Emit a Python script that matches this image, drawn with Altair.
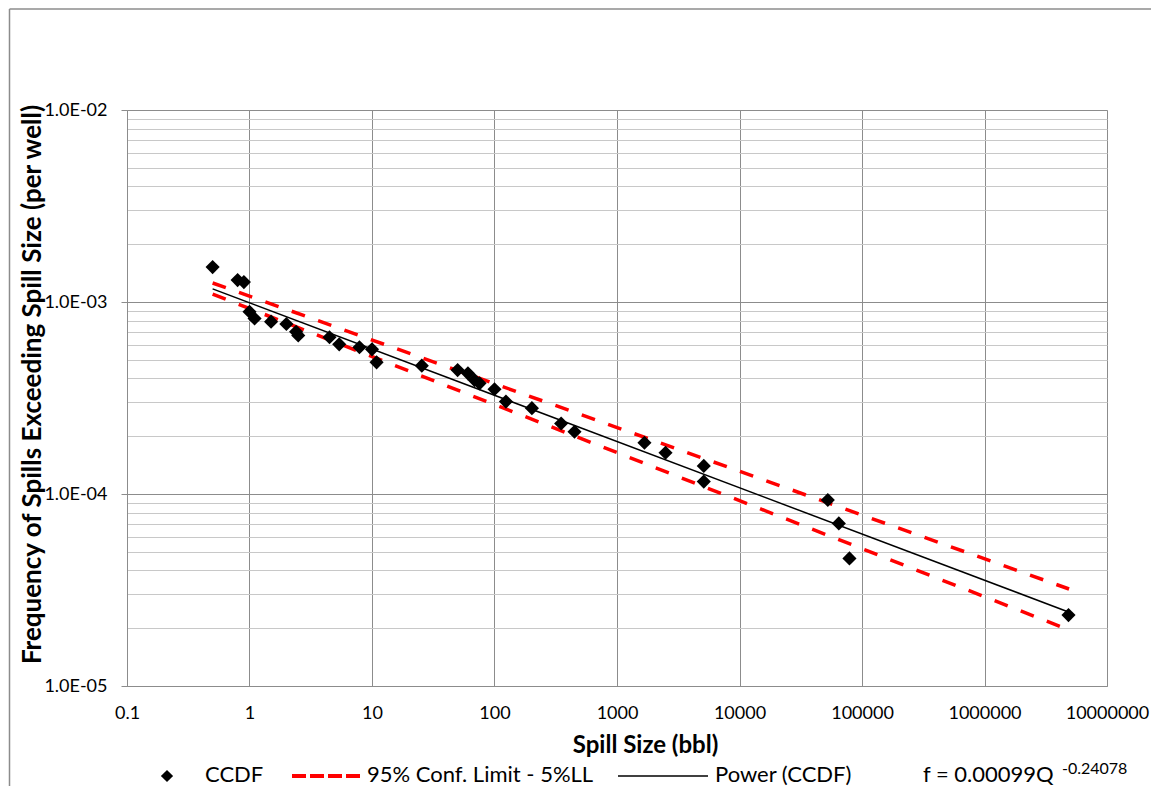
import altair as alt
import pandas as pd

# ---------------- data ----------------
ccdf_size = [0.5, 0.8, 0.9, 1.0, 1.1, 1.5, 2.0, 2.4, 2.5, 4.5, 5.4, 7.9, 10.0, 10.9,
             25.5, 50, 60.7, 68.7, 75.5, 100, 124, 202, 350, 450,
             1675, 2490, 5110, 5110, 52600, 64700, 79000, 4850000]
ccdf_freq = [1.52e-3, 1.30e-3, 1.27e-3, 8.9e-4, 8.2e-4, 7.9e-4, 7.68e-4, 7.0e-4, 6.7e-4,
             6.55e-4, 6.02e-4, 5.81e-4, 5.67e-4, 4.85e-4,
             4.66e-4, 4.42e-4, 4.25e-4, 3.92e-4, 3.77e-4, 3.51e-4, 3.03e-4, 2.80e-4, 2.33e-4, 2.11e-4,
             1.85e-4, 1.64e-4, 1.40e-4, 1.16e-4, 9.3e-5, 7.03e-5, 4.62e-5, 2.34e-5]

power_size = [0.5, 4850000]
power_freq = [1.17e-3, 2.43e-5]

upper_size = [0.5, 4900000]
upper_freq = [1.256e-3, 3.2e-5]
lower_size = [0.5, 4900000]
lower_freq = [1.10e-3, 1.96e-5]

x_ticks = [0.1, 1, 10, 100, 1000, 10000, 100000, 1000000, 10000000]
y_major = [1e-5, 1e-4, 1e-3, 1e-2]
y_minor = [k * 10.0 ** e for e in (-5, -4, -3) for k in range(2, 10)]

legend_labels = ["CCDF", "95% Conf. Limit - 5%LL", "Power (CCDF)"]
formula_main = "f = 0.00099Q"
formula_exp = "-0.24078"

# ---------------- layout ----------------
W, H = 980, 576
FONT = "Lato"
MAJOR = "#8c8c8c"
MINOR = "#c8c8c8"

ccdf_df = pd.DataFrame({"size": ccdf_size, "freq": ccdf_freq})
power_df = pd.DataFrame({"size": power_size, "freq": power_freq})
bounds_df = pd.DataFrame({
    "size": upper_size + lower_size,
    "freq": upper_freq + lower_freq,
    "bound": ["upper"] * len(upper_size) + ["lower"] * len(lower_size),
})

major_test = "abs(log(datum.value)/LN10 - round(log(datum.value)/LN10)) < 0.001"

xscale = alt.Scale(type="log", domain=[0.1, 1e7], nice=False)
yscale = alt.Scale(type="log", domain=[1e-5, 1e-2], nice=False)

x_axis = alt.Axis(
    values=x_ticks,
    labelExpr="datum.value < 1 ? '0.1' : format(datum.value, '.0f')",
    grid=True, gridColor=MAJOR, gridWidth=1,
    ticks=False, tickSize=0,
    domainColor=MAJOR,
    labelFont=FONT, labelFontSize=18, labelColor="black",
    labelBaseline="middle", labelPadding=27, labelFlush=False,
    title="Spill Size (bbl)", titleFont=FONT, titleFontSize=24, titleFontWeight="bold",
    titleColor="black", titleBaseline="middle", titleY=59, titleX=518,
)

y_axis = alt.Axis(
    values=y_major + y_minor,
    labelExpr="(" + major_test + ") ? '1.0E-0' + (-round(log(datum.value)/LN10)) : ''",
    grid=True,
    gridColor={"condition": {"test": major_test, "value": MAJOR}, "value": MINOR},
    tickColor={"condition": {"test": major_test, "value": MAJOR}, "value": "transparent"},
    tickSize=6, domainColor=MAJOR,
    labelFont=FONT, labelFontSize=18, labelColor="black", labelPadding=14,
    labelFlush=False,
    title="Frequency of Spills Exceeding Spill Size (per well)",
    titleFont=FONT, titleFontSize=26, titleFontWeight="bold", titleColor="black",
    titleAngle=-90, titleBaseline="middle", titleAlign="center",
    titleX=-95, titleY=274,
)

bounds = alt.Chart(bounds_df).mark_line(
    color="#ff0000", strokeWidth=3.5, strokeDash=[14, 14], clip=True
).encode(
    x=alt.X("size:Q", scale=xscale, axis=x_axis),
    y=alt.Y("freq:Q", scale=yscale, axis=y_axis),
    detail="bound:N",
)

power = alt.Chart(power_df).mark_line(color="black", strokeWidth=1.5).encode(
    x=alt.X("size:Q", scale=xscale),
    y=alt.Y("freq:Q", scale=yscale),
)

points = alt.Chart(ccdf_df).mark_point(
    shape="diamond", filled=True, size=200, color="black", opacity=1
).encode(
    x=alt.X("size:Q", scale=xscale),
    y=alt.Y("freq:Q", scale=yscale),
)

# ---------------- legend & annotations ----------------
LY = 665
LF = 22
base = alt.Chart(pd.DataFrame({"a": [0]}))

leg_diamond = base.mark_point(shape="diamond", filled=True, size=150, color="black", opacity=1).encode(
    x=alt.value(40), y=alt.value(LY + 1))
leg_t1 = base.mark_text(align="left", baseline="middle", font=FONT, fontSize=LF, color="black").encode(
    x=alt.value(78), y=alt.value(LY), text=alt.value(legend_labels[0]))
leg_dash = base.mark_rule(color="#ff0000", strokeWidth=4, strokeDash=[14, 4]).encode(
    x=alt.value(165), x2=alt.value(233), y=alt.value(LY + 1))
leg_t2 = base.mark_text(align="left", baseline="middle", font=FONT, fontSize=LF, color="black").encode(
    x=alt.value(240), y=alt.value(LY), text=alt.value(legend_labels[1]))
leg_solid = base.mark_rule(color="black", strokeWidth=1.5).encode(
    x=alt.value(491), x2=alt.value(581), y=alt.value(LY + 1))
leg_t3 = base.mark_text(align="left", baseline="middle", font=FONT, fontSize=LF, color="black").encode(
    x=alt.value(588), y=alt.value(LY), text=alt.value(legend_labels[2]))
leg_f = base.mark_text(align="left", baseline="middle", font=FONT, fontSize=LF, color="black").encode(
    x=alt.value(796), y=alt.value(LY), text=alt.value(formula_main))
leg_exp = base.mark_text(align="left", baseline="middle", font=FONT, fontSize=16, color="black").encode(
    x=alt.value(935), y=alt.value(LY - 6), text=alt.value(formula_exp))

frame_left = base.mark_rule(color=MAJOR, strokeWidth=1.5).encode(
    x=alt.value(-117.5), y=alt.value(-101), y2=alt.value(H + 100))
frame_top = base.mark_rule(color=MAJOR, strokeWidth=1.5).encode(
    x=alt.value(-117.5), x2=alt.value(W + 60), y=alt.value(-101))

chart = alt.layer(
    bounds, power, points,
    leg_diamond, leg_t1, leg_dash, leg_t2, leg_solid, leg_t3, leg_f, leg_exp,
    frame_left, frame_top,
).properties(
    width=W, height=H,
    autosize=alt.AutoSizeParams(type="none"),
    padding={"left": 119, "top": 102, "right": 44, "bottom": 100},
).configure_view(
    stroke=MAJOR, strokeWidth=1
).configure(background="white")

chart.save("out.html", embed_options={"renderer": "svg", "actions": False})
